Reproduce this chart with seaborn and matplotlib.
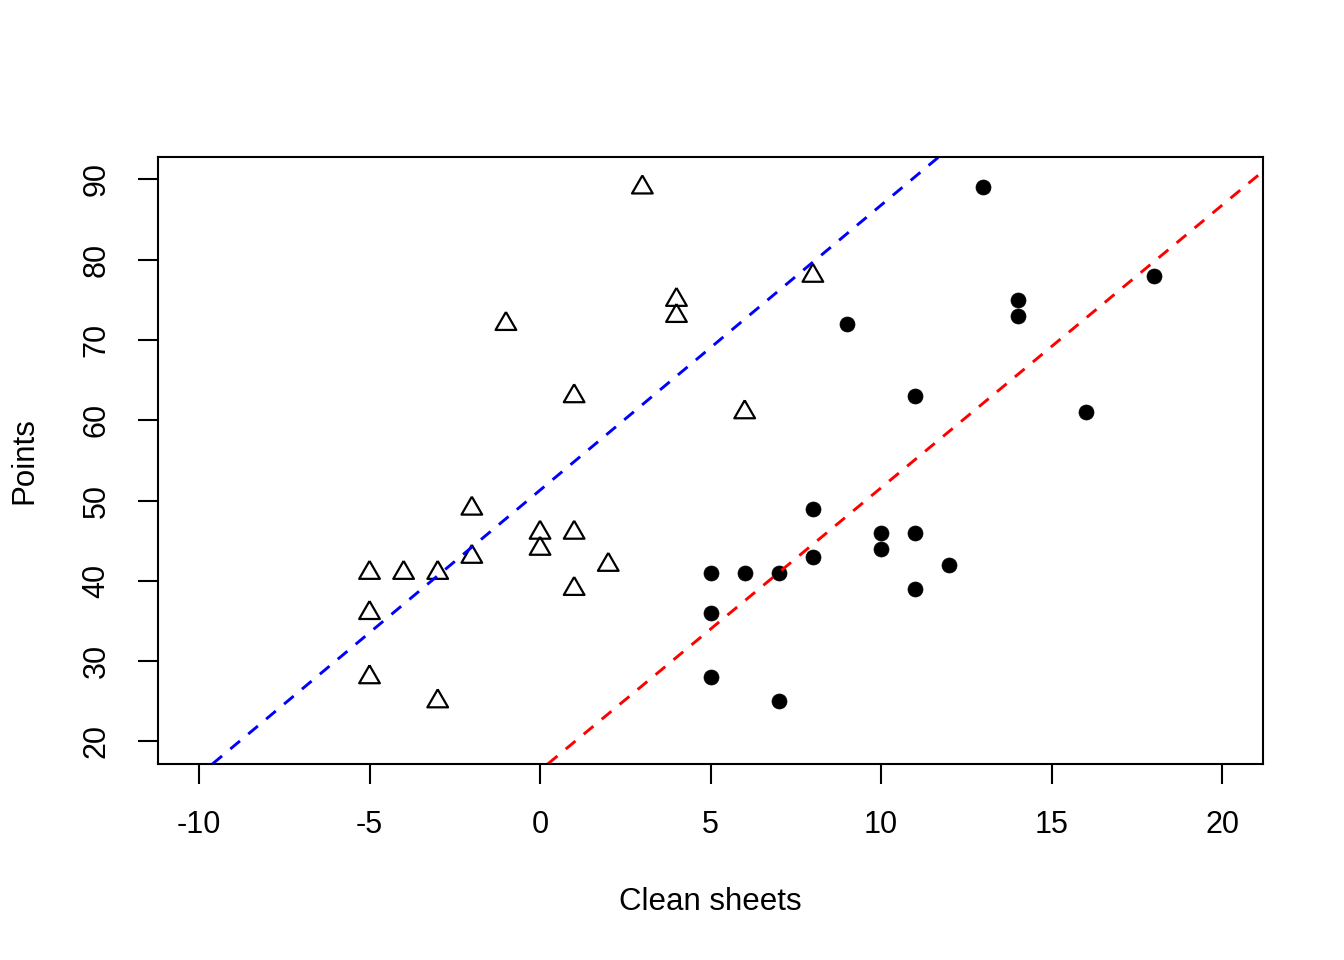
import numpy as np
import pandas as pd
import matplotlib
matplotlib.use('Agg')
import matplotlib.pyplot as plt
import seaborn as sns

# Dados
pontos = [89, 78, 75, 73, 72, 63, 61, 49, 46, 46, 44, 43, 42, 41, 41, 41, 39, 36, 28, 25]
clean_sheets = [13, 18, 14, 14, 9, 11, 16, 8, 10, 11, 10, 8, 12, 5, 6, 7, 11, 5, 5, 7]
clean_sheets_ajust = [3, 8, 4, 4, -1, 1, 6, -2, 0, 1, 0, -2, 2, -5, -4, -3, 1, -5, -5, -3]

# Retas (intercepto, inclinação)
reta_nomes = ['ajustada', 'original']
reta_intercepto = [51.3, 16.4]
reta_inclinacao = [3.55, 3.52]
reta_cores = ['blue', 'red']

x_ticks = [-10, -5, 0, 5, 10, 15, 20]
y_ticks = [20, 30, 40, 50, 60, 70, 80, 90]

df = pd.DataFrame({'cs': clean_sheets, 'cs_aj': clean_sheets_ajust, 'pts': pontos})

sns.set_style('white')
plt.rcParams['font.family'] = ['Liberation Sans', 'DejaVu Sans']

fig = plt.figure(figsize=(13.44, 9.6), dpi=100)
ax = fig.add_axes([0.1176, 0.2042, 0.8222, 0.6323])

# Triângulo no estilo R (pch 2)
tri = [(0, 1.555), (1.347, -0.778), (-1.347, -0.778), (0, 1.555)]

sns.scatterplot(data=df, x='cs_aj', y='pts', marker=tri, s=17.2 ** 2,
                facecolor='none', edgecolor='black', linewidth=1.6, ax=ax)
sns.scatterplot(data=df, x='cs', y='pts', marker='o', s=10.8 ** 2,
                color='black', edgecolor='black', linewidth=0.5, ax=ax)

for b0, b1, cor in zip(reta_intercepto, reta_inclinacao, reta_cores):
    ax.axline((0, b0), slope=b1, color=cor, linewidth=2.1, dashes=(4.3, 3.7))

ax.set_xlim(-11.2, 21.2)
ax.set_ylim(17.2, 92.8)
ax.set_xticks(x_ticks)
ax.set_yticks(y_ticks)
ax.set_xticklabels([str(v) for v in x_ticks])
ax.set_yticklabels([str(v) for v in y_ticks])

for s in ax.spines.values():
    s.set_visible(True)
    s.set_color('black')
    s.set_linewidth(1.5)

ax.tick_params(axis='both', direction='out', length=14.4, width=1.5, color='black',
               labelsize=22, labelcolor='black', left=True, bottom=True)
ax.tick_params(axis='x', pad=19)
ax.tick_params(axis='y', pad=19)
plt.setp(ax.get_yticklabels(), rotation=90, va='center')

ax.set_xlabel('Clean sheets', fontsize=22.5, color='black', va='top')
ax.set_ylabel('Points', fontsize=22.5, color='black')
ax.xaxis.set_label_coords(0.5, -0.202)
ax.yaxis.set_label_coords(-0.107, 0.5)

fig.savefig('out.png', dpi=100)
